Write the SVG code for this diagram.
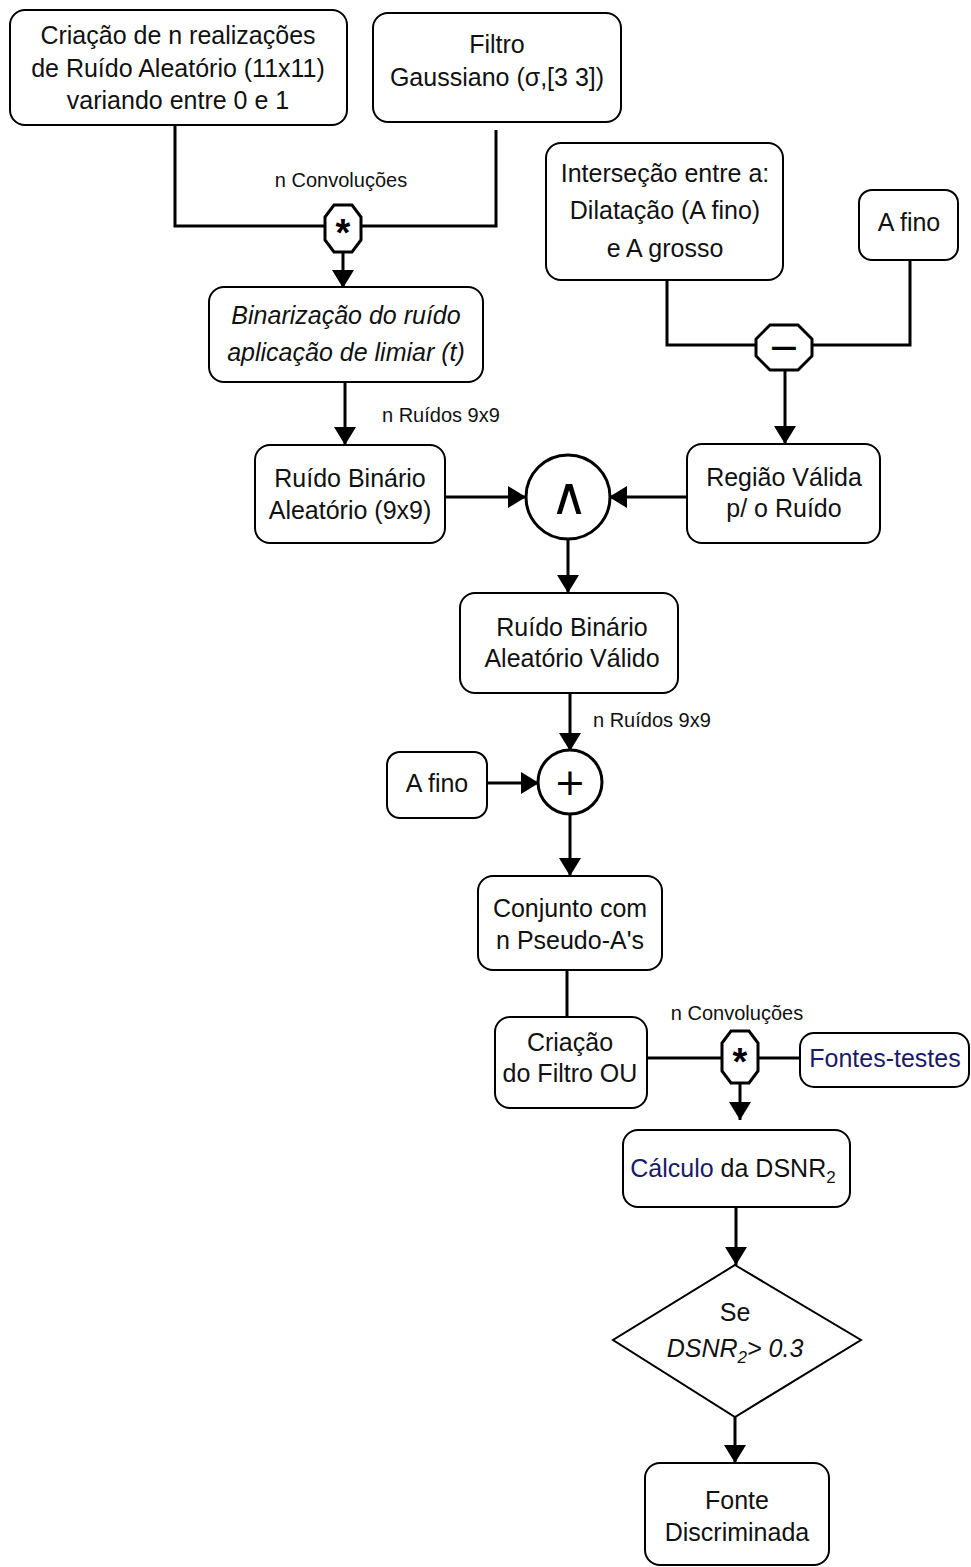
<svg xmlns="http://www.w3.org/2000/svg" width="971" height="1567" viewBox="0 0 971 1567">
<style>
.box{fill:#fff;stroke:#000;stroke-width:2}
.op{fill:#fff;stroke:#000;stroke-width:3}
.ln{fill:none;stroke:#000;stroke-width:3}
.t{font-family:"Liberation Sans",Arial,sans-serif;font-size:25px;fill:#111;text-anchor:middle}
.it{font-style:italic}
.s{font-family:"Liberation Sans",Arial,sans-serif;font-size:20px;fill:#111}
.navy{fill:#1a1a66}
.sym{font-family:"DejaVu Sans",sans-serif;fill:#000;text-anchor:middle}
.ast{font-family:"Liberation Sans",Arial,sans-serif;font-weight:bold;font-size:38px;fill:#000;text-anchor:middle}
</style>
<defs>
<marker id="ah" markerUnits="userSpaceOnUse" markerWidth="20" markerHeight="22" refX="18" refY="11" orient="auto" viewBox="0 0 20 22">
<path d="M0,0 L18,11 L0,22 z" fill="#000"/>
</marker>
</defs>
<rect width="971" height="1567" fill="#fff"/>

<g id="connectors">
<polyline class="ln" points="175,125 175,226 326,226"/>
<polyline class="ln" points="360,226 496,226 496,130"/>
<line class="ln" x1="343" y1="252" x2="343" y2="288" marker-end="url(#ah)"/>
<line class="ln" x1="345" y1="382" x2="345" y2="445" marker-end="url(#ah)"/>
<polyline class="ln" points="667,280 667,345 755,345"/>
<polyline class="ln" points="812,345 910,345 910,260"/>
<line class="ln" x1="785" y1="370" x2="785" y2="444" marker-end="url(#ah)"/>
<line class="ln" x1="445" y1="497" x2="526" y2="497" marker-end="url(#ah)"/>
<line class="ln" x1="687" y1="497" x2="609" y2="497" marker-end="url(#ah)"/>
<line class="ln" x1="568" y1="539" x2="568" y2="593" marker-end="url(#ah)"/>
<line class="ln" x1="570" y1="693" x2="570" y2="751" marker-end="url(#ah)"/>
<line class="ln" x1="487" y1="783" x2="539" y2="783" marker-end="url(#ah)"/>
<line class="ln" x1="570" y1="814" x2="570" y2="876" marker-end="url(#ah)"/>
<line class="ln" x1="567" y1="970" x2="567" y2="1017"/>
<line class="ln" x1="647" y1="1058" x2="722" y2="1058"/>
<line class="ln" x1="757" y1="1058" x2="800" y2="1058"/>
<line class="ln" x1="740" y1="1083" x2="740" y2="1120" marker-end="url(#ah)"/>
<line class="ln" x1="736" y1="1207" x2="736" y2="1265" marker-end="url(#ah)"/>
<line class="ln" x1="735" y1="1417" x2="735" y2="1463" marker-end="url(#ah)"/>
<text class="s" x="341" y="187" text-anchor="middle">n Convoluções</text>
<text class="s" x="382" y="422">n Ruídos 9x9</text>
<text class="s" x="593" y="727">n Ruídos 9x9</text>
<text class="s" x="737" y="1020" text-anchor="middle">n Convoluções</text>
</g>

<g id="n1">
<rect class="box" x="10" y="10" width="337" height="115" rx="15"/>
<text class="t" x="178" y="44">Criação de n realizações</text>
<text class="t" x="178" y="77">de Ruído Aleatório (11x11)</text>
<text class="t" x="178" y="109">variando entre 0 e 1</text>
</g>
<g id="n2">
<rect class="box" x="373" y="13" width="248" height="109" rx="15"/>
<text class="t" x="497" y="53">Filtro</text>
<text class="t" x="497" y="86">Gaussiano (σ,[3 3])</text>
</g>
<g id="conv1">
<polygon class="op" points="334,205 352,205 361,217 361,240 352,252 334,252 325,240 325,217"/>
<text class="ast" x="343" y="246">*</text>
</g>
<g id="n3">
<rect class="box" x="546" y="143" width="237" height="137" rx="15"/>
<text class="t" x="665" y="182">Interseção entre a:</text>
<text class="t" x="665" y="219">Dilatação (A fino)</text>
<text class="t" x="665" y="257">e A grosso</text>
</g>
<g id="n4">
<rect class="box" x="859" y="190" width="99" height="70" rx="13"/>
<text class="t" x="909" y="231">A fino</text>
</g>
<g id="minus">
<polygon class="op" points="770,325 798,325 812,339 812,356 798,370 770,370 756,356 756,339"/>
<text class="sym" x="784" y="360" font-size="38">−</text>
</g>
<g id="n5">
<rect class="box" x="209" y="287" width="274" height="95" rx="15"/>
<text class="t it" x="346" y="324">Binarização do ruído</text>
<text class="t it" x="346" y="361">aplicação de limiar (t)</text>
</g>
<g id="n6">
<rect class="box" x="255" y="445" width="190" height="98" rx="15"/>
<text class="t" x="350" y="487">Ruído Binário</text>
<text class="t" x="350" y="519">Aleatório (9x9)</text>
</g>
<g id="and">
<circle class="op" cx="568" cy="497" r="42"/>
<text class="sym" x="569" y="514" font-size="52">∧</text>
</g>
<g id="n7">
<rect class="box" x="687" y="444" width="193" height="99" rx="15"/>
<text class="t" x="784" y="486">Região Válida</text>
<text class="t" x="784" y="517">p/ o Ruído</text>
</g>
<g id="n8">
<rect class="box" x="460" y="593" width="218" height="100" rx="15"/>
<text class="t" x="572" y="636">Ruído Binário</text>
<text class="t" x="572" y="667">Aleatório Válido</text>
</g>
<g id="n9">
<rect class="box" x="387" y="752" width="100" height="66" rx="13"/>
<text class="t" x="437" y="792">A fino</text>
</g>
<g id="plus">
<circle class="op" cx="570" cy="782" r="32"/>
<text class="sym" x="570" y="795" font-size="38">+</text>
</g>
<g id="n10">
<rect class="box" x="478" y="876" width="184" height="94" rx="15"/>
<text class="t" x="570" y="917">Conjunto com</text>
<text class="t" x="570" y="949">n Pseudo-A's</text>
</g>
<g id="n11">
<rect class="box" x="495" y="1017" width="152" height="91" rx="15"/>
<text class="t" x="570" y="1051">Criação</text>
<text class="t" x="570" y="1082">do Filtro OU</text>
</g>
<g id="conv2">
<polygon class="op" points="731,1031 749,1031 758,1043 758,1071 749,1083 731,1083 722,1071 722,1043"/>
<text class="ast" x="740" y="1075">*</text>
</g>
<g id="n12">
<rect class="box" x="800" y="1033" width="169" height="54" rx="14"/>
<text class="t navy" x="885" y="1067">Fontes-testes</text>
</g>
<g id="n13">
<rect class="box" x="623" y="1130" width="227" height="77" rx="15"/>
<text class="t" x="733" y="1177"><tspan class="navy">Cálculo</tspan> da DSNR<tspan font-size="17" dy="6">2</tspan></text>
</g>
<g id="n14">
<polygon class="box" points="735,1265 861,1340 735,1417 613,1340"/>
<text class="t" x="735" y="1321">Se</text>
<text class="t it" x="735" y="1357">DSNR<tspan font-size="17" dy="6">2</tspan><tspan dy="-6">&gt; 0.3</tspan></text>
</g>
<g id="n15">
<rect class="box" x="645" y="1463" width="184" height="102" rx="15"/>
<text class="t" x="737" y="1509">Fonte</text>
<text class="t" x="737" y="1541">Discriminada</text>
</g>
</svg>
